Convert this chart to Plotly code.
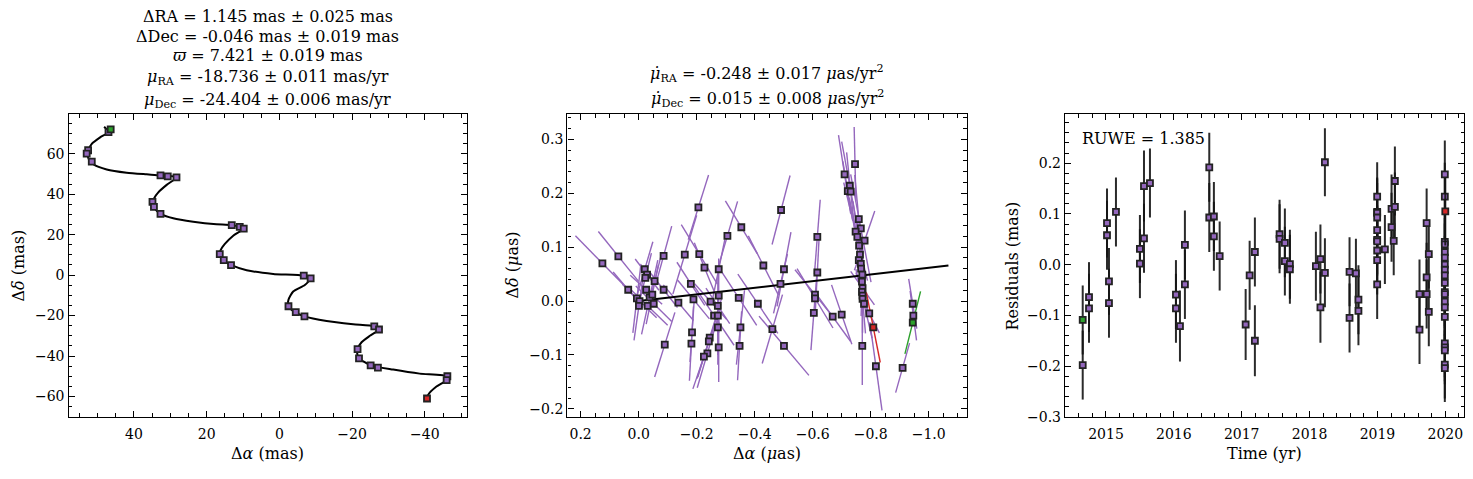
import plotly.graph_objects as go

FONT = "DejaVu Serif"
PURPLE = "#9467bd"
EDGE = "#222222"
GREEN = "#2ca02c"
RED = "#d62728"

# ---------------- Panel 1: sky track (mas) ----------------
p1_ra = [46.4, 47.0, 52.6, 53.0, 51.6, 32.7, 30.7, 28.3, 34.9, 34.5, 32.7, 13.1, 10.9, 9.8,
         16.4, 15.3, 13.3, -6.7, -8.6, -2.5, -4.5, -6.9, -26.1, -27.4, -21.5, -21.9, -25.1,
         -27.1, -46.2, -46.0, -40.6]
p1_dec = [72.0, 70.7, 61.7, 60.0, 56.1, 49.3, 48.8, 48.3, 36.2, 33.7, 30.3, 24.7, 23.8, 23.0,
          10.4, 7.4, 4.9, -0.3, -1.6, -15.4, -18.3, -20.4, -25.3, -26.9, -36.6, -41.2, -44.6,
          -45.7, -50.0, -51.9, -61.0]
curve_ra = [48.2, 47.0, 49.3, 51.6, 52.5, 52.8, 52.3, 51.2, 47.5, 42.0, 36.5, 32.7, 28.3, 31.0,
            33.3, 34.4, 34.8, 34.2, 32.7, 29.2, 23.7, 17.3, 13.1, 9.8, 12.7, 15.0, 16.2, 16.4,
            15.4, 13.2, 9.0, 1.7, -6.7, -8.6, -7.0, -3.8, -2.5, -2.5, -3.8, -6.9, -13.0, -20.3,
            -26.1, -27.4, -24.9, -22.6, -21.5, -21.5, -21.9, -25.1, -31.3, -38.6, -46.2, -46.0,
            -43.2, -40.9, -40.5]
curve_dec = [73.3, 70.7, 68.1, 64.9, 62.0, 60.0, 56.8, 54.8, 52.2, 50.6, 49.8, 49.3, 48.3, 44.6,
             40.9, 38.1, 35.7, 32.7, 30.3, 28.1, 26.4, 25.1, 24.7, 23.0, 19.5, 15.4, 12.2, 9.7,
             7.2, 4.9, 2.4, 0.6, -0.3, -1.6, -4.9, -8.1, -12.2, -15.4, -17.8, -20.4, -22.7, -24.3,
             -25.3, -26.9, -30.0, -33.2, -36.6, -39.7, -41.2, -44.6, -46.7, -48.7, -50.0, -51.9,
             -55.1, -59.2, -62.4]

# ---------------- Panel 2: residual offsets (uas) ----------------
# first entry = first epoch (green), last entry = last epoch (red)
p2_x = [-0.945,
        0.125, 0.070, 0.036, 0.006, -0.003, -0.001, -0.021, -0.029, -0.023, -0.026,
        -0.038, -0.031, -0.047, -0.052, -0.055, -0.086, -0.086, -0.090, -0.137, -0.159,
        -0.180, -0.189, -0.184, -0.182, -0.206, -0.209, -0.227, -0.248, -0.245, -0.242,
        -0.237, -0.225, -0.260, -0.273, -0.276, -0.276, -0.273, -0.273, -0.276, -0.306,
        -0.345, -0.354, -0.351, -0.348, -0.411, -0.430, -0.461, -0.489, -0.491, -0.501,
        -0.501, -0.616, -0.616, -0.608, -0.608, -0.604, -0.669, -0.700, -0.746, -0.710,
        -0.728, -0.721, -0.731, -0.759, -0.766, -0.748, -0.754, -0.779, -0.760, -0.763,
        -0.759, -0.766, -0.767, -0.771, -0.770, -0.772, -0.770, -0.772, -0.772, -0.777,
        -0.795, -0.771, -0.818, -0.910, -0.945, -0.947,
        -0.809]
p2_y = [-0.040,
        0.070, 0.083, 0.021, 0.005, 0.000, -0.009, 0.059, 0.049, 0.043, 0.021,
        0.007, -0.009, 0.012, -0.005, 0.037, 0.084, 0.021, -0.081, -0.003, 0.086,
        0.032, 0.003, -0.058, -0.079, 0.174, 0.087, 0.062, -0.001, -0.068, -0.075,
        -0.097, -0.103, -0.027, -0.027, 0.059, 0.010, -0.009, -0.049, -0.086, 0.121,
        0.006, 0.137, -0.049, -0.083, -0.005, 0.066, -0.052, 0.032, 0.169, 0.059,
        -0.083, 0.119, 0.053, 0.012, 0.005, -0.022, -0.029, -0.025, 0.254, 0.235,
        0.214, 0.204, 0.203, 0.152, 0.135, 0.129, 0.119, 0.112, 0.103, 0.086,
        0.076, 0.069, 0.060, 0.049, 0.036, 0.024, 0.017, 0.010, 0.004, -0.005,
        -0.023, -0.083, -0.121, -0.124, -0.005, -0.027,
        -0.049]
# half-extent of each scan-direction error line (towards its upper end)
p2_ex = [-0.027,
         0.093, 0.069, 0.052, -0.014, 0.059, -0.017, -0.028, 0.041, -0.021, 0.055,
         -0.028, 0.069, -0.021, 0.062, -0.024, -0.028, 0.048, -0.035, 0.052, -0.041,
         0.048, 0.055, -0.007, -0.007, -0.035, 0.062, 0.035, 0.055, -0.041, -0.041,
         -0.035, -0.038, 0.069, 0.0, -0.021, 0.0, 0.041, 0.0, 0.0, -0.035,
         0.062, 0.055, -0.014, -0.007, 0.069, 0.052, -0.035, -0.024, -0.031, -0.024,
         0.086, -0.010, -0.007, 0.069, 0.062, -0.010, 0.062, 0.035, 0.003, 0.021,
         0.028, 0.017, 0.014, 0.014, 0.035, 0.041, 0.028, -0.035, 0.021, 0.010,
         0.017, 0.007, 0.007, 0.0, -0.003, 0.041, 0.021, 0.0, 0.010, 0.028,
         0.035, 0.0, 0.021, -0.024, 0.014, 0.011,
         0.024]
p2_ey = [0.058,
         0.051, 0.046, 0.033, 0.064, 0.031, 0.064, 0.051, 0.029, 0.046, 0.027,
         0.069, 0.036, 0.055, 0.033, 0.051, 0.055, 0.033, 0.060, 0.033, 0.073,
         0.040, 0.036, 0.055, 0.069, 0.060, 0.055, 0.046, 0.033, 0.073, 0.069,
         0.064, 0.060, 0.055, 0.073, 0.055, 0.069, 0.033, 0.069, 0.064, 0.064,
         0.051, 0.049, 0.069, 0.064, 0.055, 0.055, 0.064, 0.055, 0.064, 0.069,
         0.055, 0.069, 0.073, 0.046, 0.055, 0.069, 0.046, 0.055, 0.069, 0.073,
         0.082, 0.055, 0.073, 0.082, 0.100, 0.091, 0.073, 0.055, 0.082, 0.073,
         0.073, 0.073, 0.064, 0.069, 0.064, 0.031, 0.036, 0.069, 0.064, 0.064,
         0.036, 0.073, 0.082, 0.046, 0.046, 0.046,
         0.065]
accel_x = [0.0, -1.068]
accel_y = [0.0, 0.066]

# ---------------- Panel 3: residuals vs time ----------------
t_yr = [2014.657, 2014.657, 2014.750, 2014.750, 2015.015, 2015.015, 2015.044, 2015.044,
        2015.147, 2015.500, 2015.500, 2015.560, 2015.560, 2015.648, 2016.031, 2016.031,
        2016.090, 2016.163, 2016.163, 2016.522, 2016.522, 2016.590, 2016.590, 2016.675,
        2017.058, 2017.117, 2017.194, 2017.194, 2017.558, 2017.558, 2017.636, 2017.636,
        2017.710, 2017.710, 2018.093, 2018.160, 2018.160, 2018.226, 2018.226, 2018.589,
        2018.589, 2018.683, 2018.720, 2018.720,
        2018.996, 2018.996, 2018.996, 2018.996, 2018.996, 2018.996, 2018.996, 2018.996,
        2018.996, 2018.996,
        2019.110, 2019.208, 2019.208, 2019.240, 2019.257, 2019.257, 2019.620, 2019.620,
        2019.725, 2019.725, 2019.725, 2019.757, 2019.757,
        2019.993, 2019.993, 2019.993, 2019.993, 2019.993, 2019.993, 2019.993, 2019.993,
        2019.993, 2019.993, 2019.993, 2019.993, 2019.993, 2019.993, 2019.993, 2019.993,
        2019.993, 2019.993, 2019.993, 2019.993,
        2020.000]
resid = [-0.109, -0.198, -0.064, -0.086, 0.082, 0.058, -0.033, -0.076,
         0.104, 0.031, 0.002, 0.155, 0.052, 0.161, -0.059, -0.086,
         -0.121, 0.039, -0.039, 0.192, 0.093, 0.095, 0.056, 0.017,
         -0.118, -0.021, 0.025, -0.150, 0.060, 0.051, 0.043, 0.007,
         0.001, -0.009, -0.003, 0.011, -0.084, -0.016, 0.202, -0.014,
         -0.105, -0.017, -0.069, -0.091,
         0.134, 0.104, 0.102, 0.093, 0.068, 0.049, 0.046, 0.028,
         0.009, -0.039,
         0.030, 0.074, 0.110, 0.047, 0.165, 0.114, -0.058, -0.128,
         0.082, -0.025, -0.058, 0.021, -0.093,
         0.178, 0.134, 0.045, 0.040, 0.025, 0.014, 0.000, -0.010,
         -0.021, -0.036, -0.054, -0.058, -0.073, -0.084, -0.103, -0.155,
         -0.163, -0.169, -0.197, -0.204,
         0.105]
resid_err = [0.068, 0.068, 0.069, 0.068, 0.068, 0.068, 0.066, 0.068,
             0.068, 0.067, 0.068, 0.070, 0.068, 0.068, 0.068, 0.068,
             0.070, 0.068, 0.068, 0.068, 0.068, 0.068, 0.068, 0.068,
             0.070, 0.068, 0.068, 0.070, 0.068, 0.068, 0.068, 0.068,
             0.068, 0.068, 0.068, 0.068, 0.070, 0.068, 0.067, 0.068,
             0.068, 0.068, 0.068, 0.068,
             0.068, 0.068, 0.068, 0.068, 0.068, 0.068, 0.068, 0.068,
             0.068, 0.068,
             0.068, 0.068, 0.068, 0.068, 0.068, 0.068, 0.068, 0.068,
             0.068, 0.068, 0.068, 0.068, 0.068,
             0.067, 0.067, 0.067, 0.067, 0.067, 0.067, 0.067, 0.067,
             0.067, 0.067, 0.067, 0.067, 0.067, 0.067, 0.067, 0.067,
             0.067, 0.067, 0.067, 0.067,
             0.067]
ruwe_text = "RUWE = 1.385"

title1 = ["ΔRA = 1.145 mas ± 0.025 mas",
          "ΔDec = -0.046 mas ± 0.019 mas",
          "<i>ϖ</i> = 7.421 ± 0.019 mas",
          "<i>μ</i><sub>RA</sub> = -18.736 ± 0.011 mas/yr",
          "<i>μ</i><sub>Dec</sub> = -24.404 ± 0.006 mas/yr"]
title2 = ["<i>μ̇</i><sub>RA</sub> = -0.248 ± 0.017 <i>μ</i>as/yr<sup>2</sup>",
          "<i>μ̇</i><sub>Dec</sub> = 0.015 ± 0.008 <i>μ</i>as/yr<sup>2</sup>"]

W, H = 1473, 479
fig = go.Figure()

mk = dict(symbol="square", size=6, line=dict(color=EDGE, width=1.8))
EBAR = "rgba(20,20,20,0.9)"

# Panel 1
fig.add_trace(go.Scatter(x=curve_ra, y=curve_dec, mode="lines",
                         line=dict(color="black", width=2, shape="spline", smoothing=0.6),
                         xaxis="x", yaxis="y", hoverinfo="skip"))
fig.add_trace(go.Scatter(x=p1_ra[1:-1], y=p1_dec[1:-1], mode="markers",
                         marker=dict(color=PURPLE, **mk), xaxis="x", yaxis="y"))
fig.add_trace(go.Scatter(x=[p1_ra[0]], y=[p1_dec[0]], mode="markers",
                         marker=dict(color=GREEN, **mk), xaxis="x", yaxis="y"))
fig.add_trace(go.Scatter(x=[p1_ra[-1]], y=[p1_dec[-1]], mode="markers",
                         marker=dict(color=RED, **mk), xaxis="x", yaxis="y"))

# Panel 2: scan-direction lines
def seg(idx):
    xs, ys = [], []
    for i in idx:
        xs += [p2_x[i] - p2_ex[i], p2_x[i] + p2_ex[i], None]
        ys += [p2_y[i] - p2_ey[i], p2_y[i] + p2_ey[i], None]
    return xs, ys

n2 = len(p2_x)
sx, sy = seg(range(1, n2 - 1))
fig.add_trace(go.Scatter(x=sx, y=sy, mode="lines", line=dict(color=PURPLE, width=1.4),
                         xaxis="x2", yaxis="y2", hoverinfo="skip"))
gx, gy = seg([0])
fig.add_trace(go.Scatter(x=gx, y=gy, mode="lines", line=dict(color=GREEN, width=1.4),
                         xaxis="x2", yaxis="y2", hoverinfo="skip"))
rx, ry = seg([n2 - 1])
fig.add_trace(go.Scatter(x=rx, y=ry, mode="lines", line=dict(color=RED, width=1.4),
                         xaxis="x2", yaxis="y2", hoverinfo="skip"))
fig.add_trace(go.Scatter(x=accel_x, y=accel_y, mode="lines", line=dict(color="black", width=2),
                         xaxis="x2", yaxis="y2", hoverinfo="skip"))
fig.add_trace(go.Scatter(x=p2_x[1:-1], y=p2_y[1:-1], mode="markers",
                         marker=dict(color=PURPLE, **mk), xaxis="x2", yaxis="y2"))
fig.add_trace(go.Scatter(x=[p2_x[0]], y=[p2_y[0]], mode="markers",
                         marker=dict(color=GREEN, **mk), xaxis="x2", yaxis="y2"))
fig.add_trace(go.Scatter(x=[p2_x[-1]], y=[p2_y[-1]], mode="markers",
                         marker=dict(color=RED, **mk), xaxis="x2", yaxis="y2"))

# Panel 3
fig.add_trace(go.Scatter(x=t_yr[1:-1], y=resid[1:-1], mode="markers",
                         error_y=dict(type="data", array=resid_err[1:-1], color=EBAR,
                                      thickness=2, width=0),
                         marker=dict(color=PURPLE, **mk), xaxis="x3", yaxis="y3"))
fig.add_trace(go.Scatter(x=[t_yr[0]], y=[resid[0]], mode="markers",
                         error_y=dict(type="data", array=[resid_err[0]], color=EBAR,
                                      thickness=2, width=0),
                         marker=dict(color=GREEN, **mk), xaxis="x3", yaxis="y3"))
fig.add_trace(go.Scatter(x=[t_yr[-1]], y=[resid[-1]], mode="markers",
                         error_y=dict(type="data", array=[resid_err[-1]], color=EBAR,
                                      thickness=2, width=0),
                         marker=dict(color=RED, **mk), xaxis="x3", yaxis="y3"))


def axis(domain, rng, dtick, mdtick, anchor, fmt=None, tick0=None, standoff=None):
    d = dict(domain=domain, range=rng, dtick=dtick, anchor=anchor,
             showline=True, linecolor="black", linewidth=1.4, mirror="allticks",
             ticks="inside", ticklen=6, tickwidth=1.2, tickcolor="black",
             showgrid=False, zeroline=False,
             tickfont=dict(family=FONT, size=14, color="black"),
             minor=dict(ticks="inside", ticklen=3.5, tickwidth=1.0, tickcolor="black",
                        dtick=mdtick, showgrid=False))
    if fmt:
        d["tickformat"] = fmt
    if tick0 is not None:
        d["tick0"] = tick0
    if standoff is not None:
        d["ticklabelstandoff"] = standoff
    return d

ydom = [1 - 424 / H, 1 - 116 / H]
fig.update_layout(
    width=W, height=H, margin=dict(l=0, r=0, t=0, b=0),
    paper_bgcolor="white", plot_bgcolor="white", showlegend=False,
    font=dict(family=FONT, color="black"),
    xaxis=axis([68.5 / W, 467 / W], [58.0, -51.6], 20, 5, "y", standoff=4),
    yaxis=axis(ydom, [-70.1, 79.6], 20, 5, "x"),
    xaxis2=axis([567.3 / W, 966.7 / W], [0.246, -1.131], 0.2, 0.05, "y2", ".1f", 0, standoff=4),
    yaxis2=axis(ydom, [-0.215, 0.347], 0.1, 0.02, "x2", ".1f", 0),
    xaxis3=axis([1065 / W, 1464.3 / W], [2014.396, 2020.28], 1, 0.2, "y3", "d", 2015, standoff=4),
    yaxis3=axis(ydom, [-0.3002, 0.297], 0.1, 0.02, "x3", ".1f", 0),
)

ann = []
def txt(text, xpix, ypix, size=16, angle=0, xanchor="center"):
    ann.append(dict(text=text, x=xpix / W, y=1 - ypix / H, xref="paper", yref="paper",
                    showarrow=False, textangle=angle, xanchor=xanchor, yanchor="middle",
                    font=dict(family=FONT, size=size, color="black")))

c1 = (68.5 + 467) / 2
for s, yp in zip(title1, [17, 37, 56.5, 78.5, 102.5]):
    txt(s, c1, yp)
c2 = (567.3 + 966.7) / 2
for s, yp in zip(title2, [74.5, 100.5]):
    txt(s, c2, yp)

txt("Δ<i>α</i> (mas)", c1, 461)
txt("Δ<i>α</i> (<i>μ</i>as)", c2, 461)
txt("Time (yr)", (1065 + 1464.3) / 2, 461)
txt("Δ<i>δ</i> (mas)", 18, 270, angle=-90)
txt("Δ<i>δ</i> (<i>μ</i>as)", 512, 270, angle=-90)
txt("Residuals (mas)", 1012, 270, angle=-90)
txt(ruwe_text, 1080, 141, xanchor="left")
fig.update_layout(annotations=ann)

fig.write_html("out.html")
